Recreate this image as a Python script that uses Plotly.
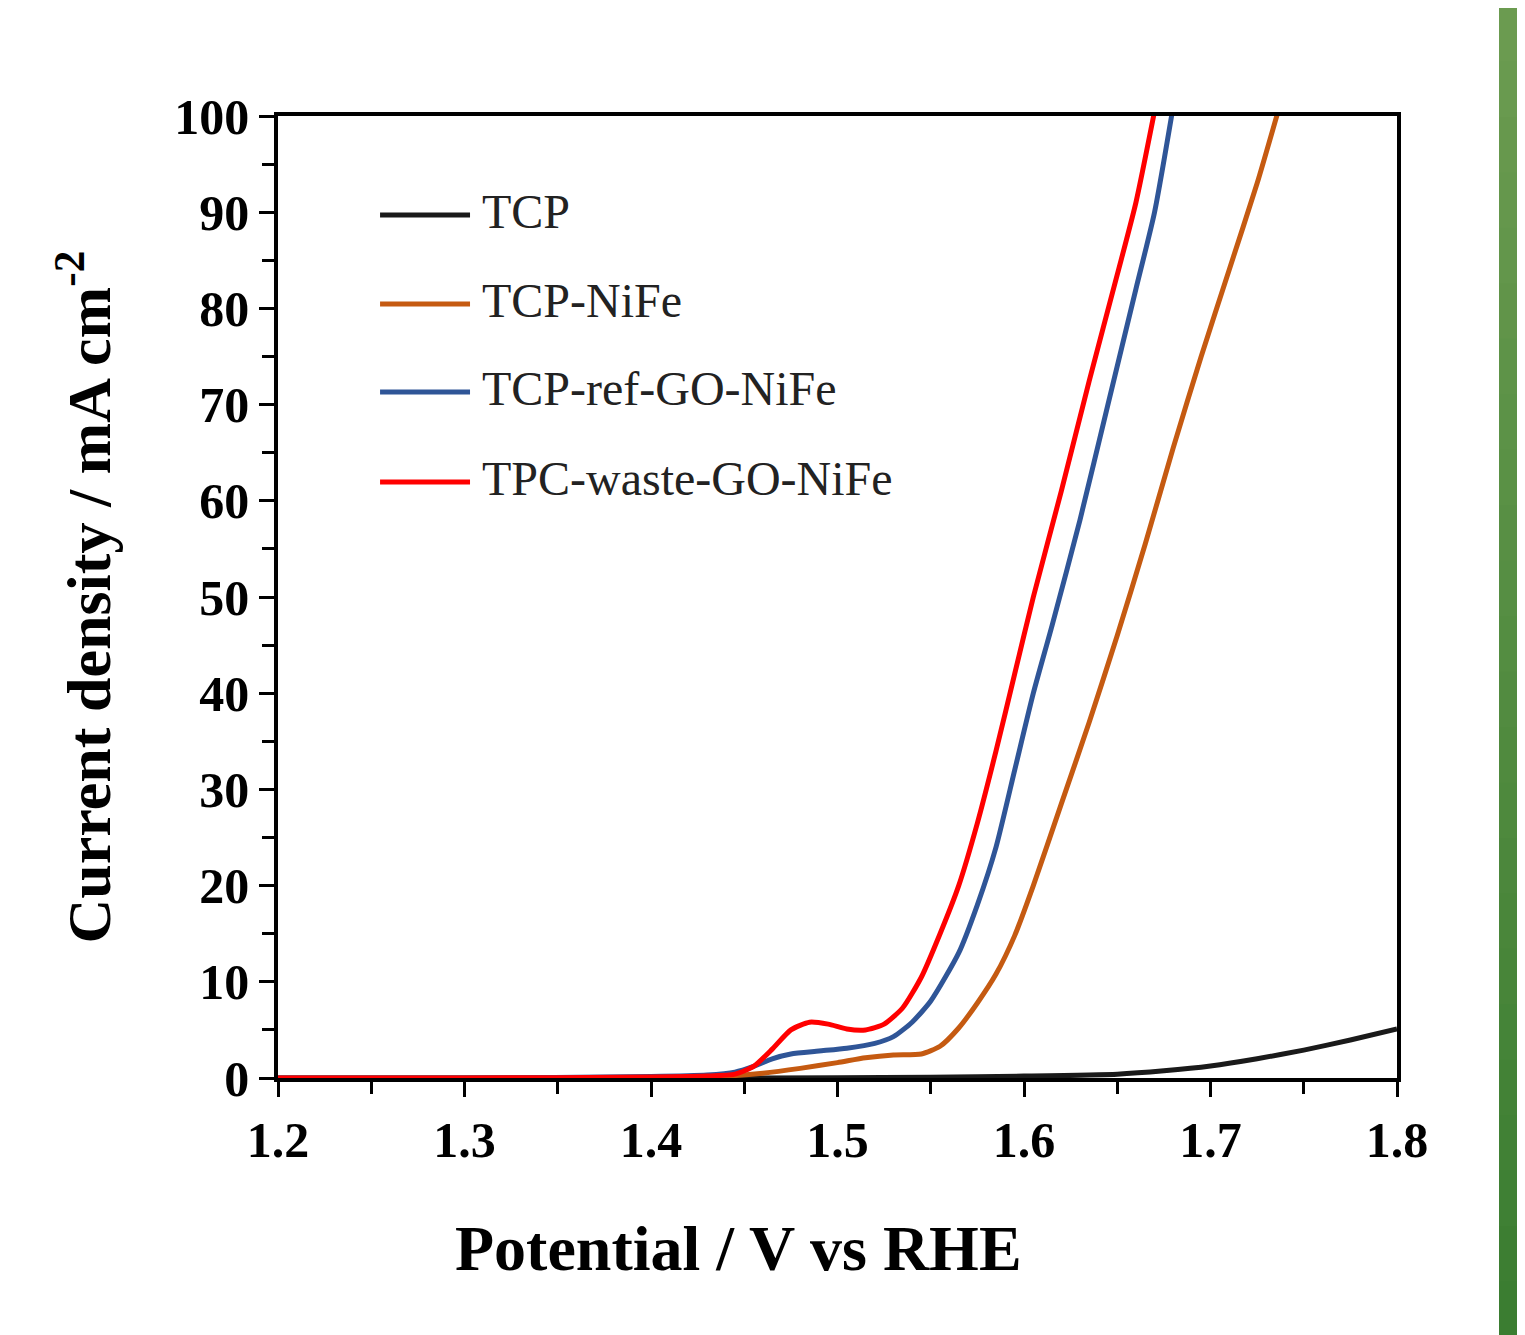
import plotly.graph_objects as go

# ---------------- data ----------------
names = ["TCP", "TCP-NiFe", "TCP-ref-GO-NiFe", "TPC-waste-GO-NiFe"]

tcp_x = [1.20, 1.40, 1.50, 1.55, 1.60, 1.65, 1.675, 1.70, 1.725, 1.75, 1.775, 1.80]
tcp_y = [0.0, 0.0, 0.02, 0.08, 0.2, 0.4, 0.75, 1.25, 2.0, 2.9, 3.95, 5.1]

nife_x = [1.20, 1.30, 1.40, 1.44, 1.46, 1.48, 1.50, 1.515, 1.53, 1.545, 1.555, 1.565, 1.575,
          1.585, 1.595, 1.605, 1.62, 1.635, 1.65, 1.665, 1.68, 1.695, 1.71, 1.725, 1.737]
nife_y = [0.0, 0.0, 0.05, 0.2, 0.5, 1.0, 1.6, 2.1, 2.4, 2.5, 3.3, 5.2, 7.8,
          10.8, 14.8, 20.0, 28.5, 37.0, 46.0, 55.5, 65.5, 75.0, 84.0, 93.0, 101.0]

ref_x = [1.20, 1.30, 1.40, 1.43, 1.445, 1.455, 1.465, 1.475, 1.49, 1.505, 1.52, 1.53, 1.54,
         1.55, 1.565, 1.575, 1.585, 1.595, 1.605, 1.615, 1.63, 1.645, 1.66, 1.67, 1.68]
ref_y = [0.0, 0.0, 0.15, 0.3, 0.6, 1.2, 2.0, 2.5, 2.8, 3.1, 3.6, 4.3, 5.8,
         8.0, 13.0, 18.0, 24.0, 32.0, 40.0, 47.0, 58.0, 70.0, 82.0, 90.0, 101.0]

waste_x = [1.20, 1.30, 1.40, 1.43, 1.445, 1.455, 1.465, 1.475, 1.485, 1.495, 1.505, 1.515,
           1.525, 1.535, 1.545, 1.555, 1.565, 1.575, 1.585, 1.595, 1.605, 1.62, 1.635,
           1.65, 1.66, 1.67]
waste_y = [0.0, 0.0, 0.1, 0.2, 0.4, 1.2, 3.0, 5.0, 5.8, 5.6, 5.1, 5.0,
           5.6, 7.3, 10.5, 15.0, 20.0, 26.5, 34.0, 42.0, 50.0, 61.0, 72.5,
           83.5, 91.0, 100.5]

x_ticks = [1.2, 1.3, 1.4, 1.5, 1.6, 1.7, 1.8]
y_ticks = [0, 10, 20, 30, 40, 50, 60, 70, 80, 90, 100]

colors = ["#1a1a1a", "#c55a11", "#2f5597", "#ff0000"]
series = [(tcp_x, tcp_y), (nife_x, nife_y), (ref_x, ref_y), (waste_x, waste_y)]

# ---------------- figure ----------------
W, H = 1517, 1327          # page has an 8px body margin
L, R, T, B = 270, 128, 108, 257
PW = W - L - R
PH = H - T - B

fig = go.Figure()
for (xs, ys), nm, c in zip(series, names, colors):
    fig.add_trace(go.Scatter(x=xs, y=ys, mode="lines", name=nm,
                             line=dict(color=c, width=5, shape="spline", smoothing=0.6),
                             showlegend=False))

FONT = "Liberation Serif"
tickfont = dict(family=FONT, size=50, color="black", weight="bold")

fig.update_xaxes(range=[1.2, 1.8], tickvals=x_ticks, ticktext=[f"{v:.1f}" for v in x_ticks],
                 ticks="outside", ticklen=15, tickwidth=3, tickcolor="black",
                 minor=dict(dtick=0.05, tick0=1.2, ticks="outside", ticklen=12, tickwidth=3,
                            tickcolor="black"),
                 showline=True, linewidth=3.5, linecolor="black", mirror=True,
                 showgrid=False, zeroline=False, tickfont=tickfont)
fig.update_yaxes(range=[0, 100], tickvals=y_ticks,
                 ticks="outside", ticklen=15, tickwidth=3, tickcolor="black",
                 minor=dict(dtick=5, tick0=0, ticks="outside", ticklen=12, tickwidth=3,
                            tickcolor="black"),
                 showline=True, linewidth=3.5, linecolor="black", mirror=True,
                 showgrid=False, zeroline=False, tickfont=tickfont,
                 title=dict(text="Current density / mA cm<sup>-2</sup>", standoff=45,
                            font=dict(family=FONT, size=62, color="black", weight="bold")))

shapes = []
annotations = []

# x-axis title (offset left of plot centre, as in the reference)
annotations.append(dict(xref="paper", yref="paper", x=(738 - 278) / PW, y=-0.177,
                        text="Potential / V vs RHE", showarrow=False,
                        xanchor="center", yanchor="middle",
                        font=dict(family=FONT, size=64, color="black", weight="bold")))

# manual legend (long line samples like the reference)
leg_y = [0.8971, 0.8046, 0.7131, 0.6195]
for nm, c, yy in zip(names, colors, leg_y):
    shapes.append(dict(type="line", xref="paper", yref="paper", x0=0.0912, x1=0.1716,
                       y0=yy, y1=yy, line=dict(color=c, width=5)))
    annotations.append(dict(xref="paper", yref="paper", x=0.1805, y=yy + 0.004, text=nm,
                            showarrow=False, xanchor="left", yanchor="middle",
                            font=dict(family=FONT, size=48, color="#222222")))

# green decorative bar at right edge (gradient)
top = (0x6b, 0x9b, 0x50)
bot = (0x3b, 0x7d, 0x31)
n = 24
x0p = (1491 - L) / PW
x1p = (W + 2 - L) / PW
ytop = (T + PH + 2) / PH
ybot = -(B + 2) / PH
for i in range(n):
    t = i / (n - 1)
    col = tuple(int(round(a + (b - a) * t)) for a, b in zip(top, bot))
    ya = ytop - (ytop - ybot) * i / n
    yb = ytop - (ytop - ybot) * (i + 1) / n
    shapes.append(dict(type="rect", xref="paper", yref="paper", x0=x0p, x1=x1p,
                       y0=yb - 0.002, y1=ya, line=dict(width=0),
                       fillcolor="rgb(%d,%d,%d)" % col, layer="below"))

fig.update_layout(width=W, height=H,
                  margin=dict(l=L, r=R, t=T, b=B),
                  plot_bgcolor="white", paper_bgcolor="white",
                  shapes=shapes, annotations=annotations)

fig.write_html("out.html")
